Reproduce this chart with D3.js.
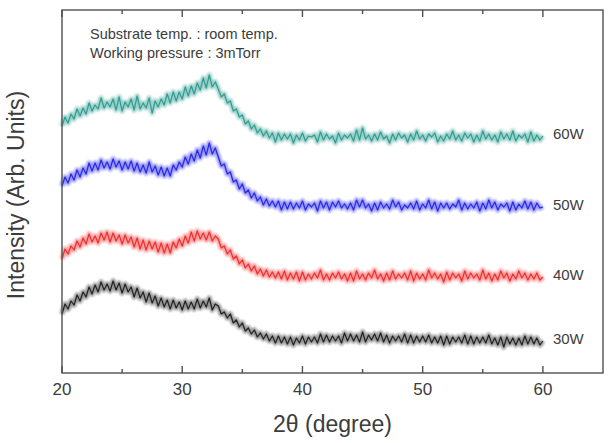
<!DOCTYPE html>
<html lang="en">
<head>
    <meta charset="UTF-8">
    <title>xrd</title>
    <script src="https://cdn.jsdelivr.net/npm/d3@7/dist/d3.min.js"></script>
    <style>
        body { margin: 0; background: #fff; }
        svg text { font-family: "Liberation Sans", Arial, sans-serif; fill: #3c3c3c; }
        svg .frame { fill: none; stroke: #505050; stroke-width: 1.4px; }
        svg .tick-mark { stroke: #505050; stroke-width: 1.4px; }
        svg .halo { fill: none; stroke-width: 5px; stroke-opacity: 0.45; stroke-linejoin: round; }
        svg .trace { fill: none; stroke-width: 1.2px; stroke-opacity: 0.9; stroke-linejoin: round; }
    </style>
</head>
<body>
<svg width="609" height="443"></svg>
<script>
    // 2theta sampled every 0.25 degree, 20 .. 60
    var angles = d3.range(0, 161).map(function(i) { return 20 + i * 0.25; });

    var xTicks = [20, 30, 40, 50, 60],
        xMinor = [25, 35, 45, 55],
        notes = ['Substrate temp. : room temp.', 'Working pressure : 3mTorr'];

    var w60 = [
        247,256,250,259, 254,264,257,265, 259,270,262,268, 264,275,265,271, 266,274,263,276,
        262,271,266,274, 263,277,264,270, 265,275,260,272, 266,274,268,279, 270,281,272,281,
        274,286,277,287, 279,290,283,295, 285,298,286,291, 284,276,279,270, 272,262,264,256,
        258,249,252,244, 248,240,244,237, 242,235,240,231, 240,233,239,234, 239,230,238,233,
        240,232,237,236, 238,231,241,233, 239,234,237,230, 240,233,238,235, 239,232,243,233,
        245,234,238,232, 239,233,241,234, 237,230,239,233, 240,235,238,231, 239,233,242,234,
        238,232,239,236, 240,231,237,232, 239,234,242,233, 238,232,240,235, 239,231,238,232,
        242,234,239,233, 238,231,241,234, 239,233,242,232, 238,235,239,231, 241,232,238,233,
        237];
    var w50 = [
        187,196,190,199, 193,203,196,205, 199,210,202,210, 203,213,205,211, 204,214,206,212,
        203,211,204,212, 202,210,201,208, 200,211,201,207, 198,206,197,205, 197,208,203,211,
        206,216,209,219, 212,223,215,227, 218,230,219,225, 216,207,209,199, 201,191,193,184,
        189,180,183,175, 180,172,176,168, 174,167,172,166, 172,163,171,164, 171,164,170,165,
        172,163,169,166, 170,162,172,165, 171,163,171,166, 172,165,169,164, 170,163,173,166,
        173,165,169,162, 170,163,171,165, 169,164,173,166, 171,163,168,165, 170,164,172,163,
        169,165,173,164, 171,162,170,165, 170,164,169,166, 173,163,170,164, 169,165,171,162,
        170,164,173,165, 171,163,169,166, 170,162,171,163, 169,165,172,164, 171,163,170,165,
        166];
    var w40 = [
        114,124,119,127, 123,132,126,135, 129,139,131,137, 130,140,133,141, 131,140,132,138,
        129,138,130,136, 126,135,124,133, 123,132,124,131, 121,130,120,129, 120,131,125,134,
        127,137,130,141, 132,142,134,140, 133,141,132,137, 134,125,127,119, 123,114,117,109,
        113,105,109,102, 107,99,104,97, 103,96,101,95, 101,94,102,93, 100,94,101,92,
        101,93,99,94, 100,95,103,93, 99,93,100,95, 101,94,99,92, 100,92,102,94,
        99,93,100,95, 103,94,99,92, 100,93,102,94, 99,95,100,93, 102,92,100,94,
        99,93,103,95, 100,94,99,91, 101,93,100,95, 99,92,102,94, 100,95,99,93,
        103,94,100,92, 99,93,102,95, 100,92,99,94, 102,95,100,93, 99,94,100,93,
        96];
    var w30 = [
        59,69,64,72, 68,78,72,81, 76,86,79,88, 81,91,83,89, 82,92,83,90,
        80,89,81,86, 76,85,75,81, 71,80,70,77, 67,75,66,73, 64,73,65,71,
        63,72,64,71, 64,74,65,72, 66,75,63,69, 67,59,61,55, 59,50,53,46,
        50,42,45,39, 43,36,40,34, 39,32,37,30, 37,30,36,29, 36,28,35,30,
        37,29,36,31, 36,30,39,31, 38,31,37,32, 37,30,40,32, 39,32,38,31,
        41,31,38,33, 39,32,40,31, 38,30,37,32, 37,31,39,30, 38,30,37,31,
        37,31,38,30, 36,30,37,28, 37,29,36,31, 36,30,38,29, 37,29,36,30,
        36,30,38,29, 35,28,36,26, 36,29,35,28, 35,28,37,29, 36,29,35,28,
        32];

    var seriesNames = ['60W', '50W', '40W', '30W'],
        seriesColors = ['#23978a', '#1c1ce6', '#ee2222', '#151515'],
        seriesValues = [w60, w50, w40, w30];

    var svg = d3.select('svg'),
        padL = 62, padT = 10, padR = 603, padB = 373;

    var x = d3.scaleLinear().domain([20, 65]).range([padL, padR]),
        y = d3.scaleLinear().domain([0, 363]).range([padB, padT]);

    var defs = svg.append('defs');
    defs.append('filter').attr('id', 'soft')
        .attr('x', '-5%').attr('y', '-20%').attr('width', '110%').attr('height', '140%')
        .append('feGaussianBlur').attr('stdDeviation', 1.0);

    var line = d3.line()
        .x(function(d, i) { return x(angles[i]); })
        .y(function(d) { return y(d); });

    seriesValues.forEach(function(vals, k) {
        svg.append('path')
            .classed('halo', true)
            .attr('stroke', seriesColors[k])
            .attr('filter', 'url(#soft)')
            .attr('d', line(vals));
        svg.append('path')
            .classed('trace', true)
            .attr('stroke', seriesColors[k])
            .attr('d', line(vals));

        svg.append('text')
            .attr('x', x(60) + 10)
            .attr('y', y(vals[vals.length - 1]) + 3)
            .attr('font-size', 15)
            .text(seriesNames[k]);
    });

    // frame
    svg.append('rect')
        .classed('frame', true)
        .attr('x', padL).attr('y', padT)
        .attr('width', padR - padL).attr('height', padB - padT);

    // ticks pointing inward, bottom and top
    xTicks.forEach(function(t) {
        svg.append('line').classed('tick-mark', true)
            .attr('x1', x(t)).attr('x2', x(t)).attr('y1', padB).attr('y2', padB - 7);
        svg.append('line').classed('tick-mark', true)
            .attr('x1', x(t)).attr('x2', x(t)).attr('y1', padT).attr('y2', padT + 7);
        svg.append('text')
            .attr('x', x(t)).attr('y', padB + 22)
            .attr('text-anchor', 'middle')
            .attr('font-size', 17)
            .text(t);
    });
    xMinor.forEach(function(t) {
        svg.append('line').classed('tick-mark', true)
            .attr('x1', x(t)).attr('x2', x(t)).attr('y1', padB).attr('y2', padB - 4);
        svg.append('line').classed('tick-mark', true)
            .attr('x1', x(t)).attr('x2', x(t)).attr('y1', padT).attr('y2', padT + 4);
    });

    svg.append('text')
        .attr('x', (padL + padR) / 2).attr('y', 432)
        .attr('text-anchor', 'middle')
        .attr('font-size', 23)
        .text('2\u03b8 (degree)');

    svg.append('text')
        .attr('transform', 'translate(24,195) rotate(-90)')
        .attr('text-anchor', 'middle')
        .attr('font-size', 23)
        .text('Intensity (Arb. Units)');

    notes.forEach(function(s, i) {
        svg.append('text')
            .attr('x', 90).attr('y', 39 + i * 19)
            .attr('font-size', 14.5)
            .text(s);
    });
</script>
</body>
</html>
